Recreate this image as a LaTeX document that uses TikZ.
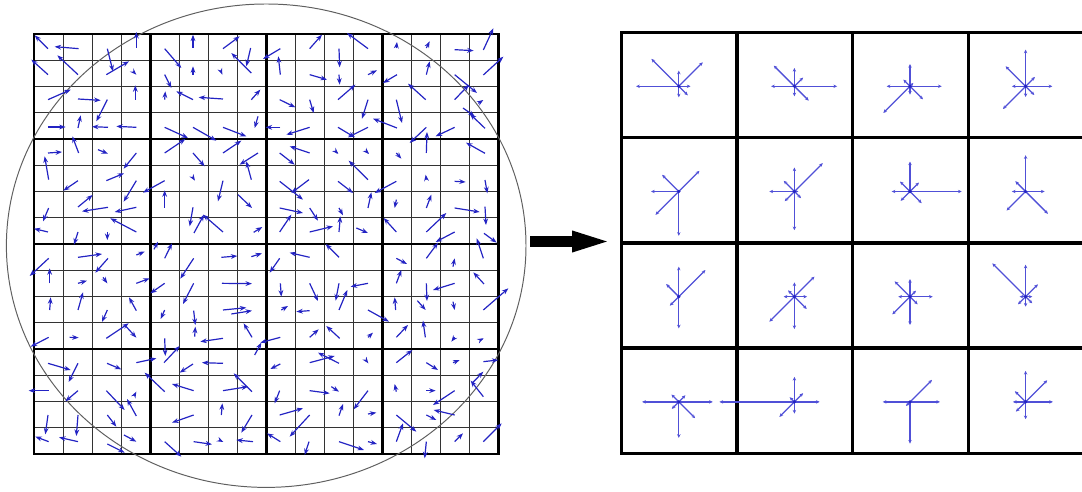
\documentclass[tikz,border=0pt]{standalone}
\usepackage{tikz}
\usetikzlibrary{arrows.meta}
\definecolor{GradBlue}{RGB}{35,35,195}
\definecolor{HistBlue}{RGB}{80,80,215}
\definecolor{RingGray}{RGB}{95,95,95}

\begin{document}
\begin{tikzpicture}[x=.25mm,y=-.25mm,
  finegrid/.style={black!80,line width=.6pt},
  blockgrid/.style={black,line width=2.1pt,line cap=rect},
  cellgrid/.style={black,line width=2.3pt,line cap=rect},
  grad/.style={GradBlue,line width=.85pt,-{Stealth[length=4.6pt,width=3.4pt]}},
  histarrow/.style={HistBlue,line width=.9pt,-{Stealth[length=2.6pt,width=2.4pt]}},
  bigarrow/.style={line width=2.65mm,-{Triangle[length=11.25mm,width=4.4mm]}}]
  \useasboundingbox (0,0) rectangle (1082,492);

  % sample grid, 16x16 with 4x4 blocks
  \foreach \i in {0,...,16}{
    \draw[finegrid] ({34+29.03*\i},34) -- ({34+29.03*\i},454);
    \draw[finegrid] (34,{34+26.25*\i}) -- (498.5,{34+26.25*\i});
  }
  \foreach \i in {0,...,4}{
    \draw[blockgrid] ({34+116.12*\i},34) -- ({34+116.12*\i},454);
    \draw[blockgrid] (34,{34+105*\i}) -- (498.5,{34+105*\i});
  }
  \draw[RingGray,line width=.7pt] (266.2,245.7) ellipse [x radius=259.8,y radius=241.7];

  % gradients (tail/head)
  \begin{scope}[shift={(28,28)},scale=1/3]
    \foreach \a/\b/\c/\d in {60/62/20/22, 152/62/80/56, 150/140/88/82, 238/62/255/130,
      235/140/303/100, 60/140/10/95, 318/133/325/140, 325/60/325/12, 322/215/322/172,
      60/215/128/185, 150/213/218/217, 238/215/205/280, 150/300/158/262, 60/297/113/297,
      240/298/192/296, 325/298/265/295, 152/375/133/325, 60/375/102/372, 210/365/240/377,
      62/455/50/385, 325/375/287/422, 235/458/288/436, 150/458/106/488, 325/458/287/521,
      410/458/345/494, 150/537/194/501, 240/538/162/550, 325/538/260/552, 62/540/45/580,
      60/612/18/602, 150/612/138/650, 325/612/247/571, 238/612/238/636, 410/62/460/120,
      495/60/495/20, 495/140/495/115, 578/128/583/140, 585/62/635/25, 670/135/610/75,
      668/60/655/115, 410/140/430/180, 410/215/412/190, 495/215/445/190, 585/213/512/208,
      670/215/697/185, 690/265/680/300, 410/298/480/330, 495/298/565/338, 585/298/655/325,
      410/375/472/333, 585/375/640/338, 495/375/530/415, 497/452/501/458, 585/458/570/520,
      690/375/635/410, 670/455/655/400, 410/540/410/487, 495/538/485/595, 585/612/525/560,
      498/615/528/560, 630/500/672/540, 677/613/703/597}
      \draw[grad] (\a,\b) -- (\c,\d);
  \end{scope}
  \begin{scope}[shift={(253,28)},scale=1/3]
    \foreach \a/\b/\c/\d in {82/62/30/93, 82/140/76/85, 170/62/207/20, 345/62/282/15,
      258/62/260/118, 258/140/260/170, 170/140/222/155, 345/140/372/127, 255/215/307/170,
      80/215/127/238, 170/215/182/255, 345/215/327/272, 82/298/38/298, 170/298/100/320,
      255/298/305/328, 345/298/285/328, 432/300/360/272, 430/60/432/42, 520/60/530/40,
      605/65/662/68, 520/140/530/100, 432/140/390/165, 518/215/465/167, 605/215/648/170,
      605/140/672/195, 630/240/665/265, 430/215/447/285, 520/298/470/345, 520/375/522/312,
      605/298/548/325, 170/375/110/355, 80/375/125/410, 253/375/256/378, 345/375/348/378,
      345/455/287/398, 80/460/150/515, 168/455/115/495, 255/460/300/495, 430/460/365/495,
      345/540/355/493, 80/540/150/555, 170/540/195/578, 258/540/270/562, 80/612/115/560,
      170/612/240/595, 258/612/262/565, 310/600/345/615, 430/375/445/392, 520/455/518/440,
      605/460/638/462, 430/515/425/540, 520/540/535/500, 605/540/680/552, 520/612/580/555,
      430/612/392/570, 605/612/548/642}
      \draw[grad] (\a,\b) -- (\c,\d);
  \end{scope}
  \begin{scope}[shift={(28,240)},scale=1/3]
    \foreach \a/\b/\c/\d in {62/55/5/108, 65/130/65/85, 150/52/222/42, 240/55/202/98,
      150/130/177/122, 225/112/238/130, 325/130/365/115, 65/210/68/172, 150/210/165/157,
      325/212/303/172, 238/210/222/246, 235/295/302/250, 290/255/325/293, 125/292/152/293,
      62/292/8/320, 325/45/350/35, 378/28/390/5, 410/55/432/10, 497/55/457/116,
      497/130/465/192, 410/130/367/160, 580/52/628/48, 670/50/702/40, 582/130/672/131,
      410/210/398/237, 497/212/502/255, 585/210/655/203, 610/222/672/212, 500/290/502/260,
      585/295/517/305, 672/292/647/250, 410/295/412/348, 408/368/455/318, 680/345/700/308,
      60/370/128/390, 150/370/122/426, 237/370/280/388, 325/368/385/355, 62/452/2/452,
      150/452/112/484, 235/452/290/510, 325/528/297/477, 318/468/325/455, 60/525/52/583,
      150/525/145/588, 238/525/265/560, 62/605/22/590, 150/605/93/592, 288/585/325/605,
      238/612/290/638, 410/455/350/398, 495/372/455/398, 585/370/522/368, 672/455/617/400,
      497/452/432/432, 585/452/660/440, 580/525/583/490, 497/525/432/548, 672/525/640/578,
      410/605/460/650, 497/605/552/613, 580/603/586/606, 675/605/625/600}
      \draw[grad] (\a,\b) -- (\c,\d);
  \end{scope}
  \begin{scope}[shift={(253,240)},scale=1/3]
    \foreach \a/\b/\c/\d in {82/292/22/308, 80/55/50/98, 170/52/110/38, 258/52/218/12,
      82/130/85/170, 170/130/195/183, 258/130/248/182, 258/210/283/150, 345/130/293/140,
      85/210/105/198, 170/212/130/215, 345/210/408/245, 170/292/197/268, 260/295/220/258,
      345/292/360/278, 430/55/462/72, 520/55/555/8, 600/80/605/55, 430/130/445/90,
      520/130/522/183, 605/130/540/150, 428/210/425/172, 493/182/518/210, 600/185/605/210,
      517/292/510/242, 430/292/465/255, 605/292/595/305, 170/368/245/348, 258/370/195/338,
      82/372/52/387, 340/362/346/370, 80/452/65/490, 170/452/230/460, 235/440/258/455,
      345/452/302/508, 258/527/270/492, 80/525/150/505, 170/525/110/590, 345/522/370/518,
      82/605/42/580, 168/605/155/645, 258/605/333/630, 345/605/372/612, 430/368/478/330,
      520/368/555/390, 600/368/620/360, 430/455/425/432, 520/452/548/452, 605/452/540/495,
      430/525/490/575, 605/525/542/510, 520/525/550/540, 430/605/450/550, 520/605/515/655,
      605/605/630/580}
      \draw[grad] (\a,\b) -- (\c,\d);
  \end{scope}
  \begin{scope}[shift={(440,20)},scale=1/3]
    \foreach \a/\b/\c/\d in {130/90/160/25, 130/165/190/110, 115/250/130/240,
      135/325/90/282, 135/400/78/368, 135/480/142/520, 135/560/138/615, 132/640/170/668,
      130/715/110/655, 132/792/100/757, 130/870/205/805, 127/957/131/955,
      130/1025/175/1020, 130/1130/92/1082, 98/1088/130/1055, 130/1265/185/1210}
      \draw[grad] (\a,\b) -- (\c,\d);
  \end{scope}

  % arrow to the descriptor
  \coordinate (gridexit) at (530,241.5);
  \coordinate (histentry) at (617,241.5);
  \draw[bigarrow] (gridexit) -- (histentry);

  % descriptor, 4x4 histograms
  \foreach \i in {0,...,4}{
    \draw[cellgrid] ({621.5+115.6*\i},32.5) -- ({621.5+115.6*\i},453.3);
    \draw[cellgrid] (621.5,{32.5+105.2*\i}) -- (1083.9,{32.5+105.2*\i});
  }
  \foreach \col/\row/\ea/\nea/\no/\nwe/\we/\swe/\so/\sea in {
      0/0/11.7/33.9/15.7/38.7/42.7/0/11/12.7,
      1/0/42.7/12.3/18.3/29.2/23.3/0/10/20.3,
      2/0/31.7/4.7/22.3/9.4/23.3/37.7/8.3/18.4,
      3/0/26.7/13.2/36.7/28.3/13.7/32.1/10.7/12.3,
      0/1/0/29.2/0/23.6/27.7/33/44.3/0,
      1/1/4/40.1/24/15.1/25/13.7/38.7/9.4,
      2/1/51.7/12.7/30/14.1/18.3/13.2/0/16.5,
      3/1/19/0/36.3/14.6/13.7/26.9/0/31.6,
      0/2/0/37.7/30/17.9/0/12.7/31.7/0,
      1/2/12.7/28.3/14.3/9/10.7/35.4/32.3/17.4,
      2/2/22.7/8.5/17.7/21.7/11.7/25/28.3/10.8,
      3/2/6.7/17.4/32/47.1/6/10.8/10/9.4,
      0/3/34/9.4/0/10.4/36.7/9.9/36/23.1,
      1/3/25.3/12.3/25/6.6/75/21.2/11.7/0,
      2/3/30/31.1/0/0/27.3/5.7/41.7/0,
      3/3/27.3/30.6/31/15.1/12.7/13.7/17.3/0}{
    \coordinate (hist-\col-\row) at ({621+115.6*(\col+.5)},{33.7+105.2*(\row+.5)});
    \foreach \ang/\len in {0/\ea,-45/\nea,-90/\no,-135/\nwe,180/\we,135/\swe,90/\so,45/\sea}{
      \ifdim\len pt>0pt
        \draw[histarrow] (hist-\col-\row) -- ++(\ang:\len);
      \fi
    }
    \fill[GradBlue] (hist-\col-\row) circle (1.8);
  }
\end{tikzpicture}
\end{document}
